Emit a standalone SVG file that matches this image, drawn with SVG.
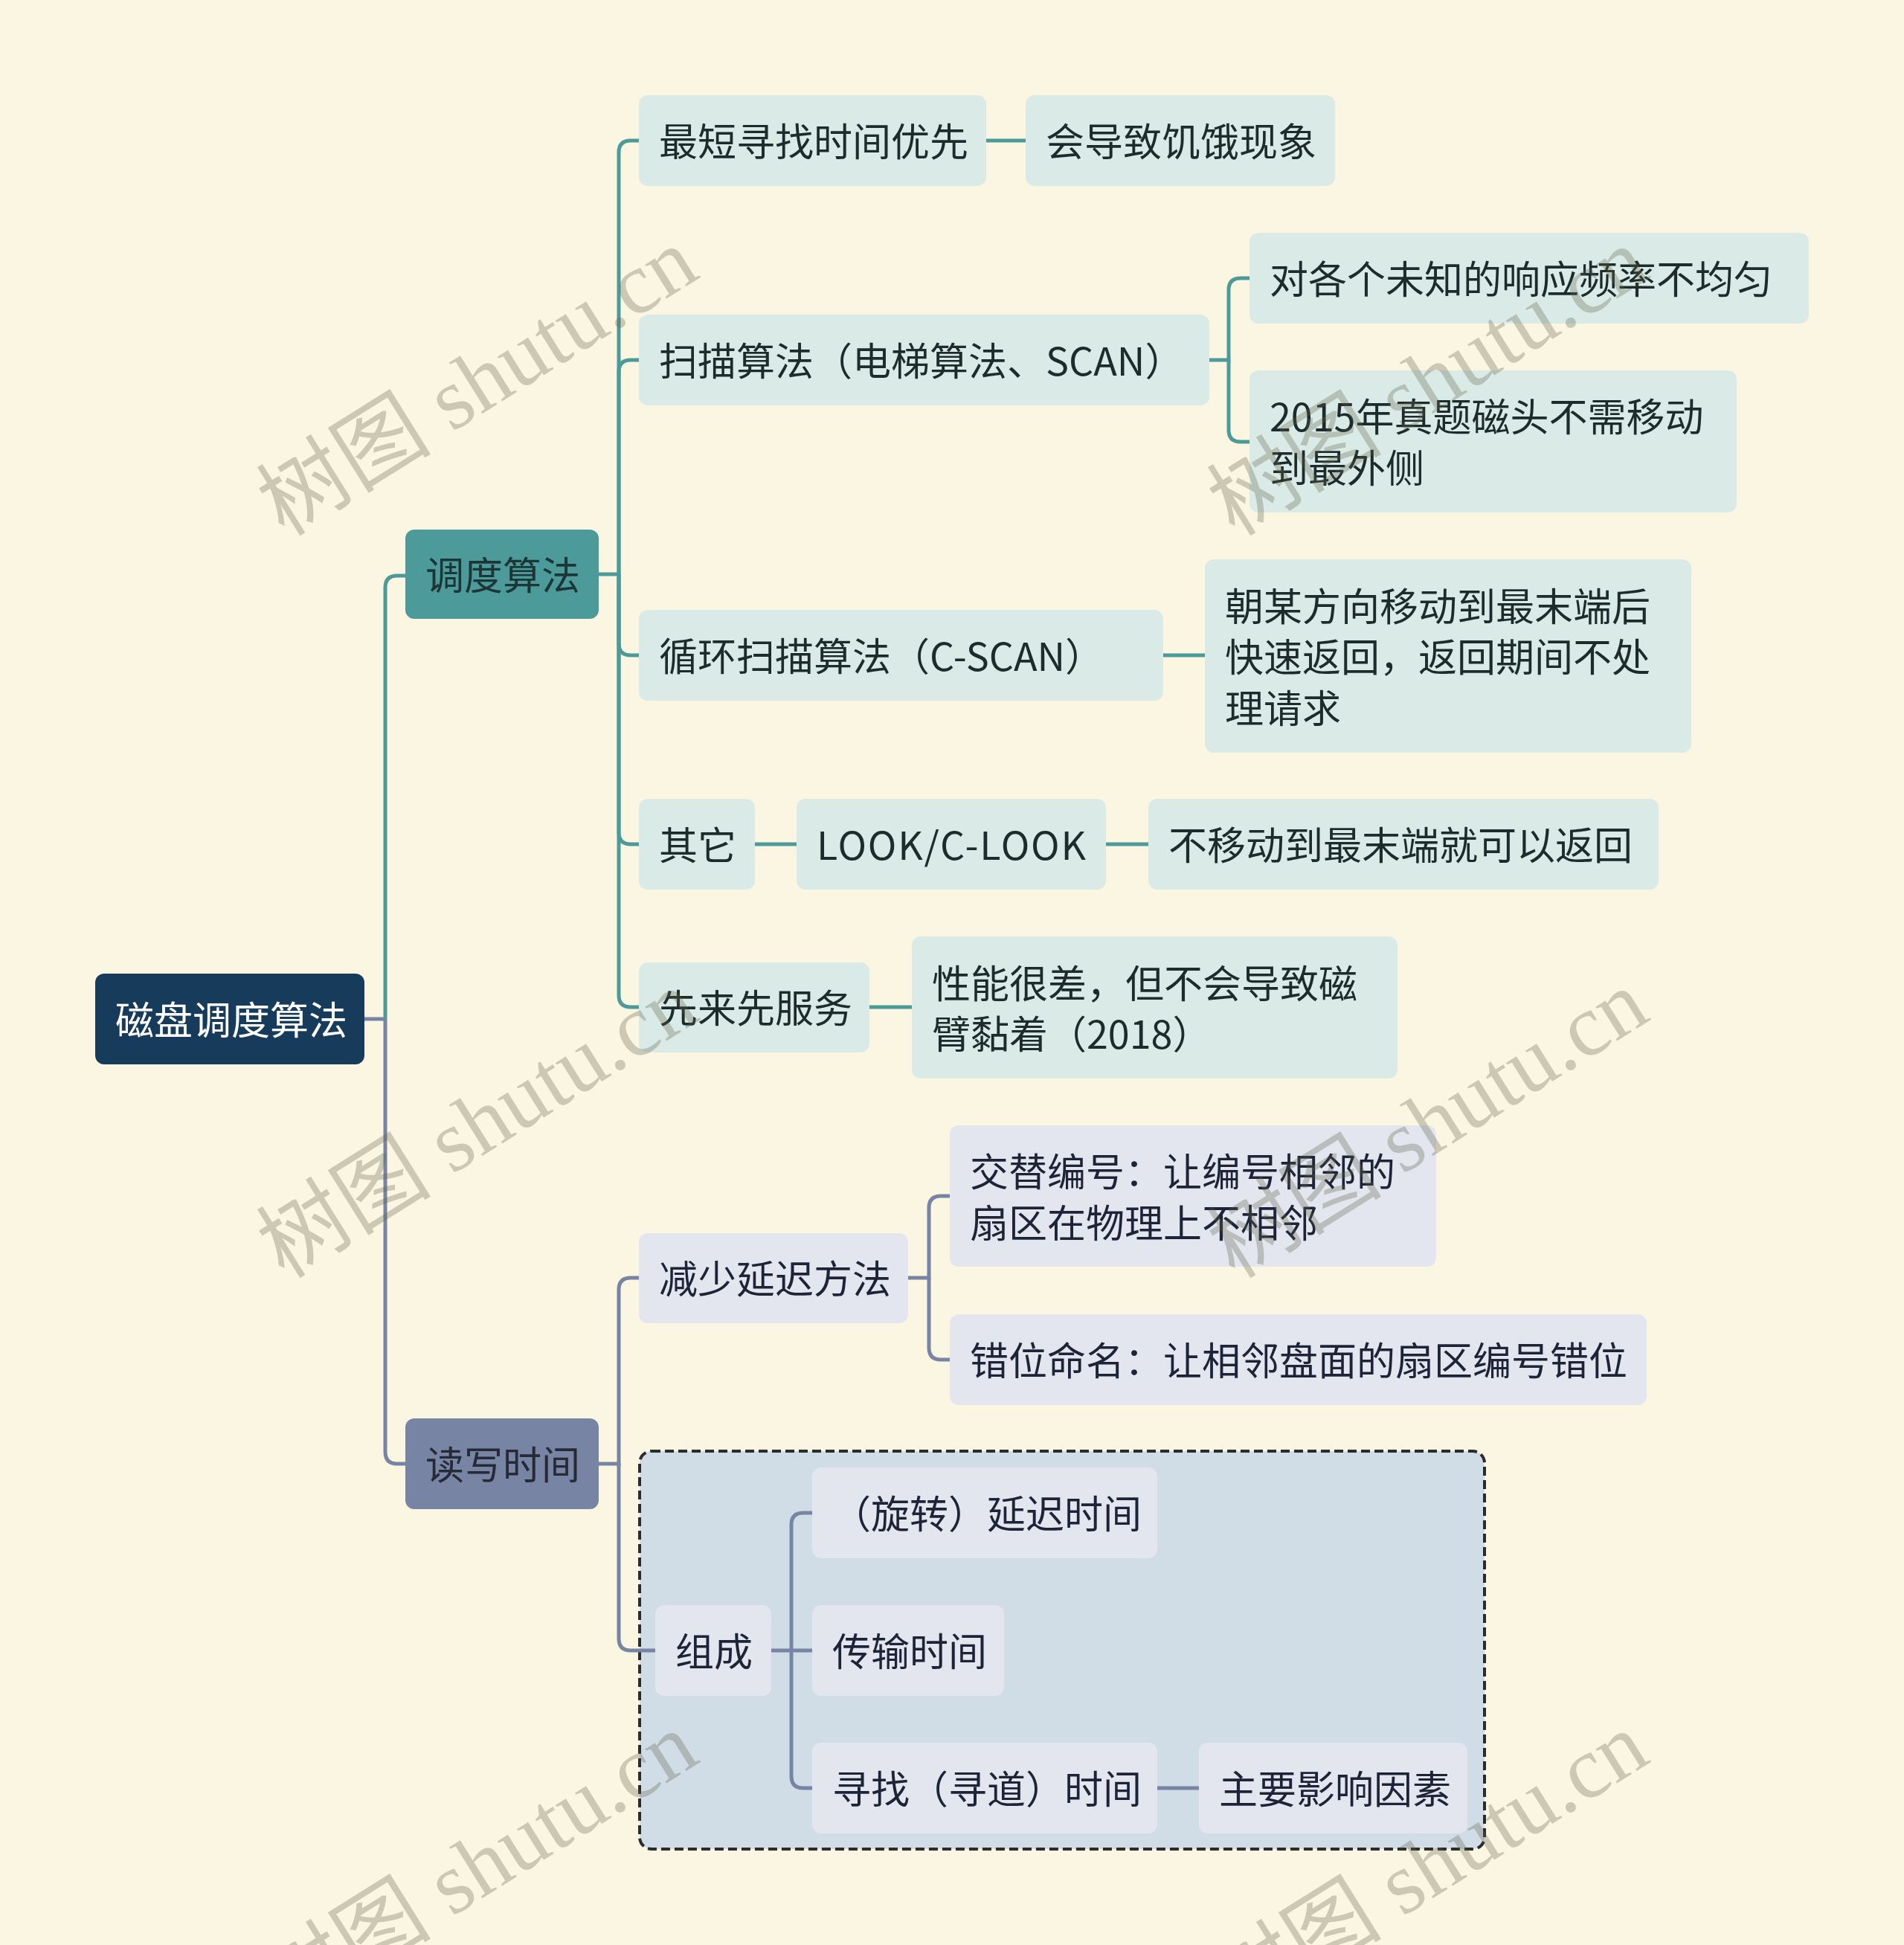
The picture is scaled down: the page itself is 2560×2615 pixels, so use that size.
<svg xmlns="http://www.w3.org/2000/svg" width="2560" height="2615" viewBox="0 0 2560 2615">
<style>
text{font-family:"Noto Sans CJK SC","Noto Sans",sans-serif;font-size:52px;dominant-baseline:central}
.wm{font-family:"Liberation Serif","Noto Sans CJK SC",serif;font-size:118px;fill:#616048;fill-opacity:0.3;text-anchor:middle;dominant-baseline:auto}
.tl{fill:#DAEAE7}
.sl{fill:#E3E6EE}
.tt{fill:#1D2B2C}
.st{fill:#1E2438}
.ct{fill:none;stroke:#4C9B9A;stroke-width:5}
.cs{fill:none;stroke:#7784A3;stroke-width:5}
</style>
<rect x="0" y="0" width="2560" height="2615" fill="#FAF6E1"/>
<g id="group-box">
<rect x="860" y="1951" width="1136" height="535" rx="16" fill="#D0DCE6" stroke="#2B2B2B" stroke-width="4" stroke-dasharray="12 6"/>
</g>
<g id="connectors">
<path class="cs" d="M490,1370 H518"/>
<path class="ct" d="M518,1370 V790 Q518,774 534,774 H545"/>
<path class="cs" d="M518,1370 V1952 Q518,1968 534,1968 H545"/>
<path class="ct" d="M805,772 H832 V205 Q832,189 848,189 H859"/>
<path class="ct" d="M832,772 V500 Q832,484 848,484 H859"/>
<path class="ct" d="M832,772 V865 Q832,881 848,881 H859"/>
<path class="ct" d="M832,772 V1119 Q832,1135 848,1135 H859"/>
<path class="ct" d="M832,772 V1338 Q832,1354 848,1354 H859"/>
<path class="ct" d="M1326,189 H1379"/>
<path class="ct" d="M1626,484 H1652 V390 Q1652,374 1668,374 H1680"/>
<path class="ct" d="M1652,484 V578 Q1652,594 1668,594 H1680"/>
<path class="ct" d="M1564,881 H1620"/>
<path class="ct" d="M1015,1135 H1071"/>
<path class="ct" d="M1487,1135 H1544"/>
<path class="ct" d="M1169,1354 H1226"/>
<path class="cs" d="M805,1968 H832 V1734 Q832,1718 848,1718 H859"/>
<path class="cs" d="M832,1968 V2203 Q832,2219 848,2219 H881"/>
<path class="cs" d="M1221,1718 H1249 V1624 Q1249,1608 1265,1608 H1277"/>
<path class="cs" d="M1249,1718 V1812 Q1249,1828 1265,1828 H1277"/>
<path class="cs" d="M1037,2219 H1092"/>
<path class="cs" d="M1064,2219 V2050 Q1064,2034 1080,2034 H1092"/>
<path class="cs" d="M1064,2219 V2388 Q1064,2404 1080,2404 H1092"/>
<path class="cs" d="M1556,2404 H1612"/>
</g>
<g id="root"><rect x="128" y="1309" width="362" height="122" rx="12" fill="#173C5B"/><text x="155" y="1368" fill="#FFFFFF">磁盘调度算法</text></g>
<g id="n-diaodu"><rect x="545" y="712" width="260" height="120" rx="12" fill="#4C9B9A"/><text x="572" y="770" fill="#1C3536">调度算法</text></g>
<g id="n-duxie"><rect x="545" y="1907" width="260" height="122" rx="12" fill="#7784A3"/><text x="572" y="1966" fill="#262A36">读写时间</text></g>
<g id="n-sstf"><rect class="tl" x="859" y="128" width="467" height="122" rx="12"/><text class="tt" x="886" y="187">最短寻找时间优先</text></g>
<g id="n-jie"><rect class="tl" x="1379" y="128" width="416" height="122" rx="12"/><text class="tt" x="1406" y="187">会导致饥饿现象</text></g>
<g id="n-scan"><rect class="tl" x="859" y="423" width="767" height="122" rx="12"/><text class="tt" x="886" y="482">扫描算法（电梯算法、SCAN）</text></g>
<g id="n-bujun"><rect class="tl" x="1680" y="313" width="752" height="122" rx="12"/><text class="tt" x="1707" y="372">对各个未知的响应频率不均匀</text></g>
<g id="n-2015"><rect class="tl" x="1680" y="498" width="655" height="191" rx="12"/><text class="tt" x="1707" y="557">2015年真题磁头不需移动</text><text class="tt" x="1707" y="626">到最外侧</text></g>
<g id="n-cscan"><rect class="tl" x="859" y="820" width="705" height="122" rx="12"/><text class="tt" x="886" y="879">循环扫描算法（C-SCAN）</text></g>
<g id="n-chao"><rect class="tl" x="1620" y="752" width="654" height="260" rx="12"/><text class="tt" x="1647" y="812">朝某方向移动到最末端后</text><text class="tt" x="1647" y="880">快速返回，返回期间不处</text><text class="tt" x="1647" y="949">理请求</text></g>
<g id="n-qita"><rect class="tl" x="859" y="1074" width="156" height="122" rx="12"/><text class="tt" x="886" y="1133">其它</text></g>
<g id="n-look"><rect class="tl" x="1071" y="1074" width="416" height="122" rx="12"/><text class="tt" x="1098" y="1133" textLength="362">LOOK/C-LOOK</text></g>
<g id="n-buyi"><rect class="tl" x="1544" y="1074" width="686" height="122" rx="12"/><text class="tt" x="1571" y="1133">不移动到最末端就可以返回</text></g>
<g id="n-fcfs"><rect class="tl" x="859" y="1294" width="310" height="121" rx="12"/><text class="tt" x="886" y="1352">先来先服务</text></g>
<g id="n-xingneng"><rect class="tl" x="1226" y="1259" width="653" height="191" rx="12"/><text class="tt" x="1253" y="1319">性能很差，但不会导致磁</text><text class="tt" x="1253" y="1387">臂黏着（2018）</text></g>
<g id="n-jianshao"><rect class="sl" x="859" y="1658" width="362" height="121" rx="12"/><text class="st" x="886" y="1716">减少延迟方法</text></g>
<g id="n-jiaoti"><rect class="sl" x="1277" y="1513" width="654" height="190" rx="12"/><text class="st" x="1304" y="1572">交替编号：让编号相邻的</text><text class="st" x="1304" y="1641">扇区在物理上不相邻</text></g>
<g id="n-cuowei"><rect class="sl" x="1277" y="1767" width="937" height="122" rx="12"/><text class="st" x="1304" y="1826">错位命名：让相邻盘面的扇区编号错位</text></g>
<g id="n-zucheng"><rect class="sl" x="881" y="2158" width="156" height="122" rx="12"/><text class="st" x="908" y="2217">组成</text></g>
<g id="n-xuanzhuan"><rect class="sl" x="1092" y="1973" width="464" height="122" rx="12"/><text class="st" x="1119" y="2032">（旋转）延迟时间</text></g>
<g id="n-chuanshu"><rect class="sl" x="1092" y="2158" width="258" height="122" rx="12"/><text class="st" x="1119" y="2217">传输时间</text></g>
<g id="n-xunzhao"><rect class="sl" x="1092" y="2343" width="464" height="122" rx="12"/><text class="st" x="1119" y="2402">寻找（寻道）时间</text></g>
<g id="n-zhuyao"><rect class="sl" x="1612" y="2343" width="361" height="122" rx="12"/><text class="st" x="1639" y="2402">主要影响因素</text></g>
<g id="watermarks">
<text class="wm" x="646" y="552" transform="rotate(-32 646 520)">树图 shutu.cn</text>
<text class="wm" x="1924" y="552" transform="rotate(-32 1924 520)">树图 shutu.cn</text>
<text class="wm" x="646" y="1550" transform="rotate(-32 646 1518)">树图 shutu.cn</text>
<text class="wm" x="1924" y="1550" transform="rotate(-32 1924 1518)">树图 shutu.cn</text>
<text class="wm" x="646" y="2548" transform="rotate(-32 646 2516)">树图 shutu.cn</text>
<text class="wm" x="1924" y="2548" transform="rotate(-32 1924 2516)">树图 shutu.cn</text>
</g>
</svg>
